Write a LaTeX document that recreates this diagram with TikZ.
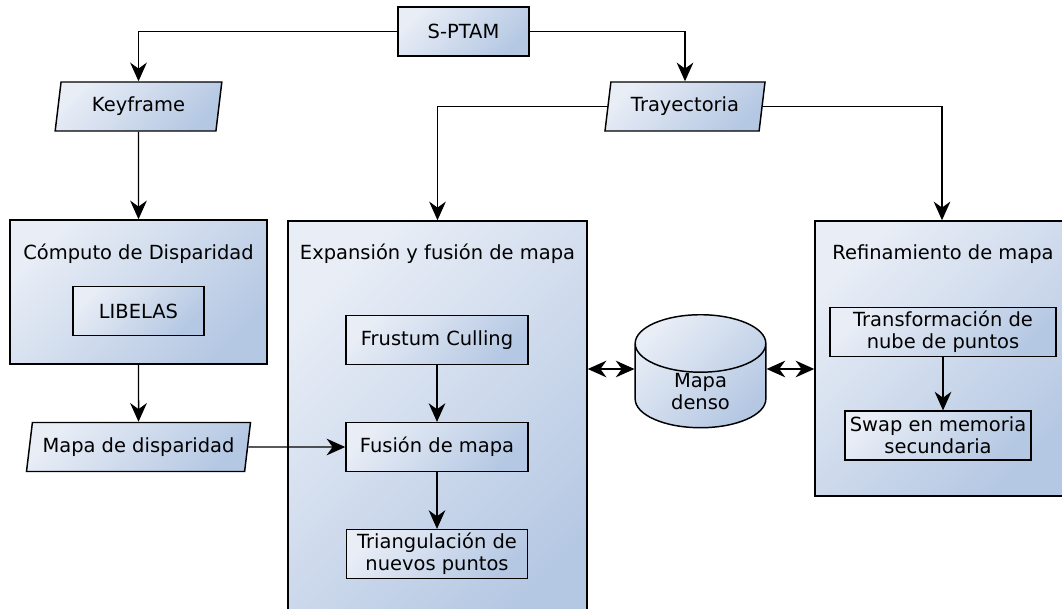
\documentclass[tikz,border=0pt]{standalone}
\usepackage{fontspec}
\setmainfont{DejaVu Sans}
\usetikzlibrary{positioning,shapes.geometric,arrows.meta}
\definecolor{boxlight}{HTML}{E8EDF6}
\definecolor{boxdark}{HTML}{B5C8E3}

\begin{document}
\begin{tikzpicture}[x=0.75pt,y=-0.75pt,
  every node/.style={font=\fontsize{14.6}{16.5}\selectfont},
  shadebox/.style={top color=boxlight, bottom color=boxdark, shading angle=45},
  proc/.style={draw, line width=1.1pt, shadebox, align=center, minimum height=36.5pt, inner sep=2pt},
  bigbox/.style={draw, line width=1.1pt, shadebox},
  datos/.style={draw, line width=1.1pt, shadebox, trapezium, trapezium left angle=78,
    trapezium right angle=102, trapezium stretches body, minimum height=36.75pt},
  almacen/.style={draw, line width=1.1pt, shadebox, cylinder, shape border rotate=90,
    aspect=0.85, inner ysep=0pt, align=center},
  flecha/.style={line width=1.1pt, -{Stealth[length=14pt,width=12.5pt,inset=4.5pt]}},
  dflecha/.style={line width=1.1pt,
    {Stealth[length=14pt,width=12.5pt,inset=4.5pt]}-{Stealth[length=14pt,width=12.5pt,inset=4.5pt]}}]
\clip (0,0) rectangle (1062,609);

\node[proc, minimum width=98pt] (sptam) at (463.5,31.5) {S-PTAM};
\node[datos, minimum width=125pt] (keyframe) at (138.5,106.5) {Keyframe};
\node[datos, minimum width=120pt] (tray) at (685,106.5) {Trayectoria};

\node[bigbox, minimum width=192.75pt, minimum height=108pt] (computo) at (138.5,292) {};
\node (computot) at (138.5,254) {Cómputo de Disparidad};
\node[proc, minimum width=98pt] (libelas) at (138.5,311) {LIBELAS};
\node[datos, minimum width=168pt] (mapadisp) at (138.5,447) {Mapa de disparidad};

\node[bigbox, minimum width=224.25pt, minimum height=315pt] (expansion) at (437.5,431) {};
\node (expansiont) at (437.5,254) {Expansión y fusión de mapa};
\node[proc, minimum width=136.5pt] (frustum) at (437,340) {Frustum Culling};
\node[proc, minimum width=136.5pt] (fusion) at (437,447) {Fusión de mapa};
\node[proc, minimum width=136pt] (triang) at (437,554) {Triangulación de\\nuevos puntos};

\node[almacen, minimum width=98pt, anchor=north] (denso) at (700.5,314) {Mapa\\denso};
\coordinate (densomid) at (700.5,369);

\node[bigbox, minimum width=190.5pt, minimum height=206.25pt] (refin) at (942,358.5) {};
\node (refint) at (943,254) {Refinamiento de mapa};
\node[proc, minimum width=169.5pt] (transf) at (943,332) {Transformación de\\nube de puntos};
\node[proc, minimum width=139.5pt] (swap) at (938,435.5) {Swap en memoria\\secundaria};

\draw[flecha] (sptam.west) -| (keyframe.north);
\draw[flecha] (sptam.east) -| (tray.north);
\draw[flecha] (tray.west) -| (expansion.north);
\draw[flecha] (tray.east) -| (refin.north);
\draw[flecha] (keyframe) -- (computo);
\draw[flecha] (computo) -- (mapadisp);
\draw[flecha] (mapadisp.east) -- (fusion.west);
\draw[flecha] (frustum) -- (fusion);
\draw[flecha] (fusion) -- (triang);
\draw[flecha] (transf.south) -- (transf.south |- swap.north);
\draw[dflecha] (expansion.east |- densomid) -- (denso.west |- densomid);
\draw[dflecha] (denso.east |- densomid) -- (refin.west |- densomid);
\end{tikzpicture}
\end{document}
